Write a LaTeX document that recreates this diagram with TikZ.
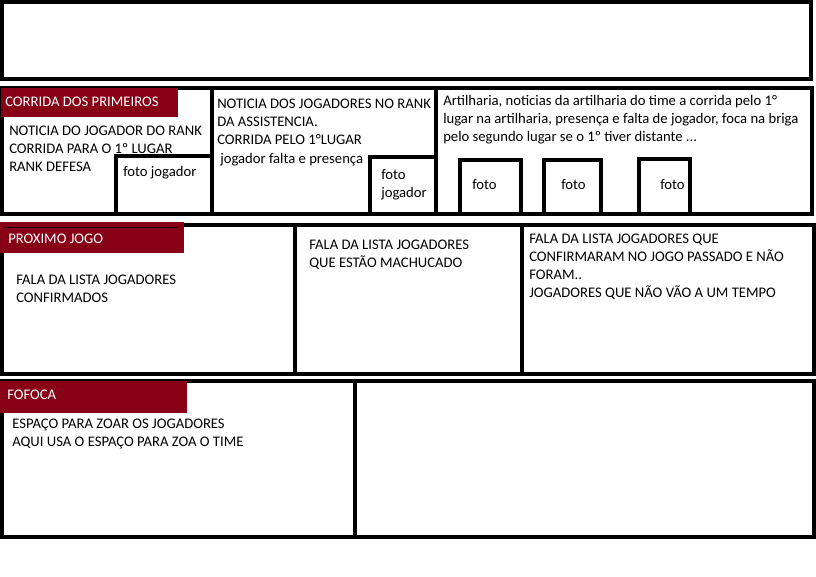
\documentclass[tikz,border=0pt]{standalone}
\usepackage{fontspec}
\setmainfont{Carlito}
\definecolor{titlered}{RGB}{136,0,21}

\begin{document}
\begin{tikzpicture}[x=0.75pt, y=-0.75pt, line width=3.4pt,
		txt/.style={anchor=base west, inner sep=0pt, align=left, font=\fontsize{11}{13.5}\selectfont},
		titletxt/.style={txt, text=white}]
			\useasboundingbox (0,0) rectangle (816,576);
			% cabecalho
			\draw (2,2) rectangle (811,79);
			% linha 2 (texto ancorado na ultima linha)
			\draw (2,88) rectangle (812,214);
			\draw (212,88) -- (212,214);
			\draw (436,88) -- (436,214);
			\draw (116,156) rectangle (212,214);
			\draw (370,157) rectangle (436,214);
			\foreach \l/\r/\t/\x/\n in {460/521/160/470/1, 544/601/160/559/2, 639/690/159/658/3}
			{
				\draw (\l,\t) rectangle (\r,214);
				\node[txt] (foto\n) at (\x,189) {foto};
			}
			\fill[titlered] (1,88) rectangle (178,117);
			\node[titletxt] (corrida) at (3,106) {CORRIDA DOS PRIMEIROS};
			\node[txt] (rank) at (7,171) {NOTICIA DO JOGADOR DO RANK\\CORRIDA PARA O 1º LUGAR\\RANK DEFESA};
			\node[txt] (fotoA) at (121,176) {foto jogador};
			\node[txt] (assist) at (215,144) {NOTICIA DOS JOGADORES NO RANK\\DA ASSISTENCIA.\\CORRIDA PELO 1°LUGAR};
			\node[txt] (falta) at (218,163) {jogador falta e presença};
			\node[txt] (fotoB) at (379,197) {foto\\jogador};
			\node[txt] (artilharia) at (441,141) {Artilharia, noticias da artilharia do time a corrida pelo 1°\\lugar na artilharia, presença e falta de jogador, foca na briga\\pelo segundo lugar se o 1º tiver distante ...};
			% linha 3
			\draw (2,225) rectangle (814,374);
			\draw (295,225) -- (295,374);
			\draw (522,225) -- (522,374);
			\fill[titlered] (0,222) rectangle (184,253);
			\draw[line width=0.75pt] (5,227) -- (178,227);
			\node[titletxt] (proximo) at (6,243) {PROXIMO JOGO};
			\node[txt] (confirmados) at (14,302) {FALA DA LISTA JOGADORES\\CONFIRMADOS};
			\node[txt] (machucado) at (307,267) {FALA DA LISTA JOGADORES\\QUE ESTÃO MACHUCADO};
			\node[txt] (faltosos) at (527,297) {FALA DA LISTA JOGADORES QUE\\CONFIRMARAM NO JOGO PASSADO E NÃO\\FORAM..\\JOGADORES QUE NÃO VÃO A UM TEMPO};
			% linha 4
			\draw (2,381) rectangle (814,537);
			\draw (355,381) -- (355,537);
			\fill[titlered] (0,381) rectangle (187,413);
			\node[titletxt] (fofoca) at (5,399) {FOFOCA};
			\node[txt] (zoar) at (10,446) {ESPAÇO PARA ZOAR OS JOGADORES\\AQUI USA O ESPAÇO PARA ZOA O TIME};
		\end{tikzpicture}
\end{document}
